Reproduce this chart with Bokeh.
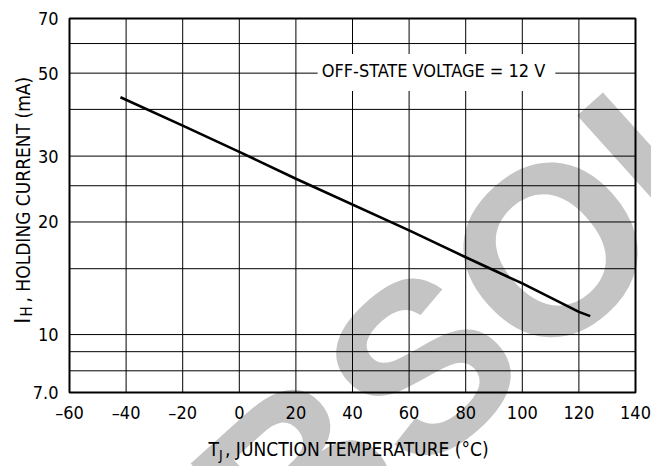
import math
from bokeh.plotting import figure
from bokeh.models import Label, Range1d
from bokeh.core.properties import value
from bokeh.embed import file_html
from bokeh.resources import INLINE

# ---------------- data ----------------
temp_c = [-42, -20, 0, 20, 60, 80, 100, 120, 124]
holding_ma = [43.1, 36.2, 30.8, 26.1, 19.0, 16.1, 13.7, 11.5, 11.2]

x_ticks = [-60, -40, -20, 0, 20, 40, 60, 80, 100, 120, 140]
x_tick_labels = ["\u201360", "\u201340", "\u201320", "0", "20", "40", "60", "80", "100", "120", "140"]
y_ticks = [7, 10, 20, 30, 50, 70]
y_tick_labels = ["7.0", "10", "20", "30", "50", "70"]
x_grid = [-40, -20, 0, 20, 40, 60, 80, 100, 120]
y_grid = [8, 9, 10, 15, 20, 25, 30, 40, 50, 60]

annotation_text = "OFF-STATE VOLTAGE = 12 V"
x_title = ("T", "J", ", JUNCTION TEMPERATURE (\u00b0C)")
y_title = ("I", "H", ", HOLDING CURRENT (mA)")
watermark_text = "OBSOLETE"

# ---------------- layout ----------------
W, H = 651, 466
FL, FR, FT, FB = 69, 635, 18, 392          # chart box in canvas pixels
X0, X1 = -60, 140
Y0, Y1 = 7, 70
FONT = "'DejaVu Sans Condensed', 'Liberation Sans', sans-serif"

kx = (X1 - X0) / (FR - FL)
ky = (math.log10(Y1) - math.log10(Y0)) / (FB - FT)
xr = Range1d(X0 - FL * kx, X1 + (W - FR) * kx)
yr = Range1d(10 ** (math.log10(Y0) - (H - FB) * ky), 10 ** (math.log10(Y1) + FT * ky))


def px_to_data(px, py):
    return X0 + (px - FL) * kx, 10 ** (math.log10(Y0) + (FB - py) * ky)


p = figure(width=W, height=H, x_range=xr, y_range=yr, y_axis_type="log",
           x_axis_location=None, y_axis_location=None, min_border=0,
           output_backend="svg", toolbar_location=None)
p.outline_line_color = None
p.background_fill_color = "white"
p.border_fill_color = "white"
p.xgrid.visible = False
p.ygrid.visible = False

# watermark (behind everything)
wx, wy = px_to_data(585, 218)
p.text(x=[wx], y=[wy], text=[watermark_text], angle=math.radians(42),
       text_align="center", text_baseline="middle",
       text_font=value("Liberation Sans"), text_font_style="bold",
       text_font_size="240px", text_color="#c4c4c4")

# grid
p.segment(x0=x_grid, y0=[Y0] * len(x_grid), x1=x_grid, y1=[Y1] * len(x_grid),
          line_color="black", line_width=1)
p.segment(x0=[X0] * len(y_grid), y0=y_grid, x1=[X1] * len(y_grid), y1=y_grid,
          line_color="black", line_width=1)

# chart frame
p.quad(left=[X0], right=[X1], bottom=[Y0], top=[Y1], fill_color=None,
       line_color="black", line_width=2)

# data line
p.line(temp_c, holding_ma, line_color="black", line_width=2.6)

# tick labels
p.text(x=x_ticks, y=[Y0] * len(x_ticks), text=x_tick_labels, y_offset=20,
       text_align="center", text_baseline="middle", text_font=value(FONT),
       text_font_size="18px", text_color="black")
p.text(x=[X0] * len(y_ticks), y=y_ticks, text=y_tick_labels, x_offset=-11,
       text_align="right", text_baseline="middle", text_font=value(FONT),
       text_font_size="18px", text_color="black")

# annotation with white box
ax_, ay_ = px_to_data(436, 72)
p.add_layout(Label(x=ax_, y=ay_, text=annotation_text, text_align="center",
                   text_baseline="middle", text_font=FONT, text_font_size="18px",
                   text_color="black", background_fill_color="white",
                   background_fill_alpha=1, padding=(4, 10, 6, 10)))


def add_text(px, py, text, size, angle=0.0):
    x, y = px_to_data(px, py)
    p.text(x=[x], y=[y], text=[text], angle=angle, text_align="left",
           text_baseline="middle", text_font=value(FONT),
           text_font_size=size, text_color="black")


# x axis title: T_J, JUNCTION TEMPERATURE (°C)
add_text(208, 448.5, x_title[0], "19px")
add_text(218.5, 454, x_title[1], "14px")
add_text(224.5, 448.5, x_title[2], "19px")

# y axis title: I_H , HOLDING CURRENT (mA)
va = math.pi / 2
add_text(22, 323, y_title[0], "21px", va)
add_text(26.5, 316, y_title[1], "15px", va)
add_text(22, 302, y_title[2], "19px", va)

open("out.html", "w").write(file_html(p, INLINE))
